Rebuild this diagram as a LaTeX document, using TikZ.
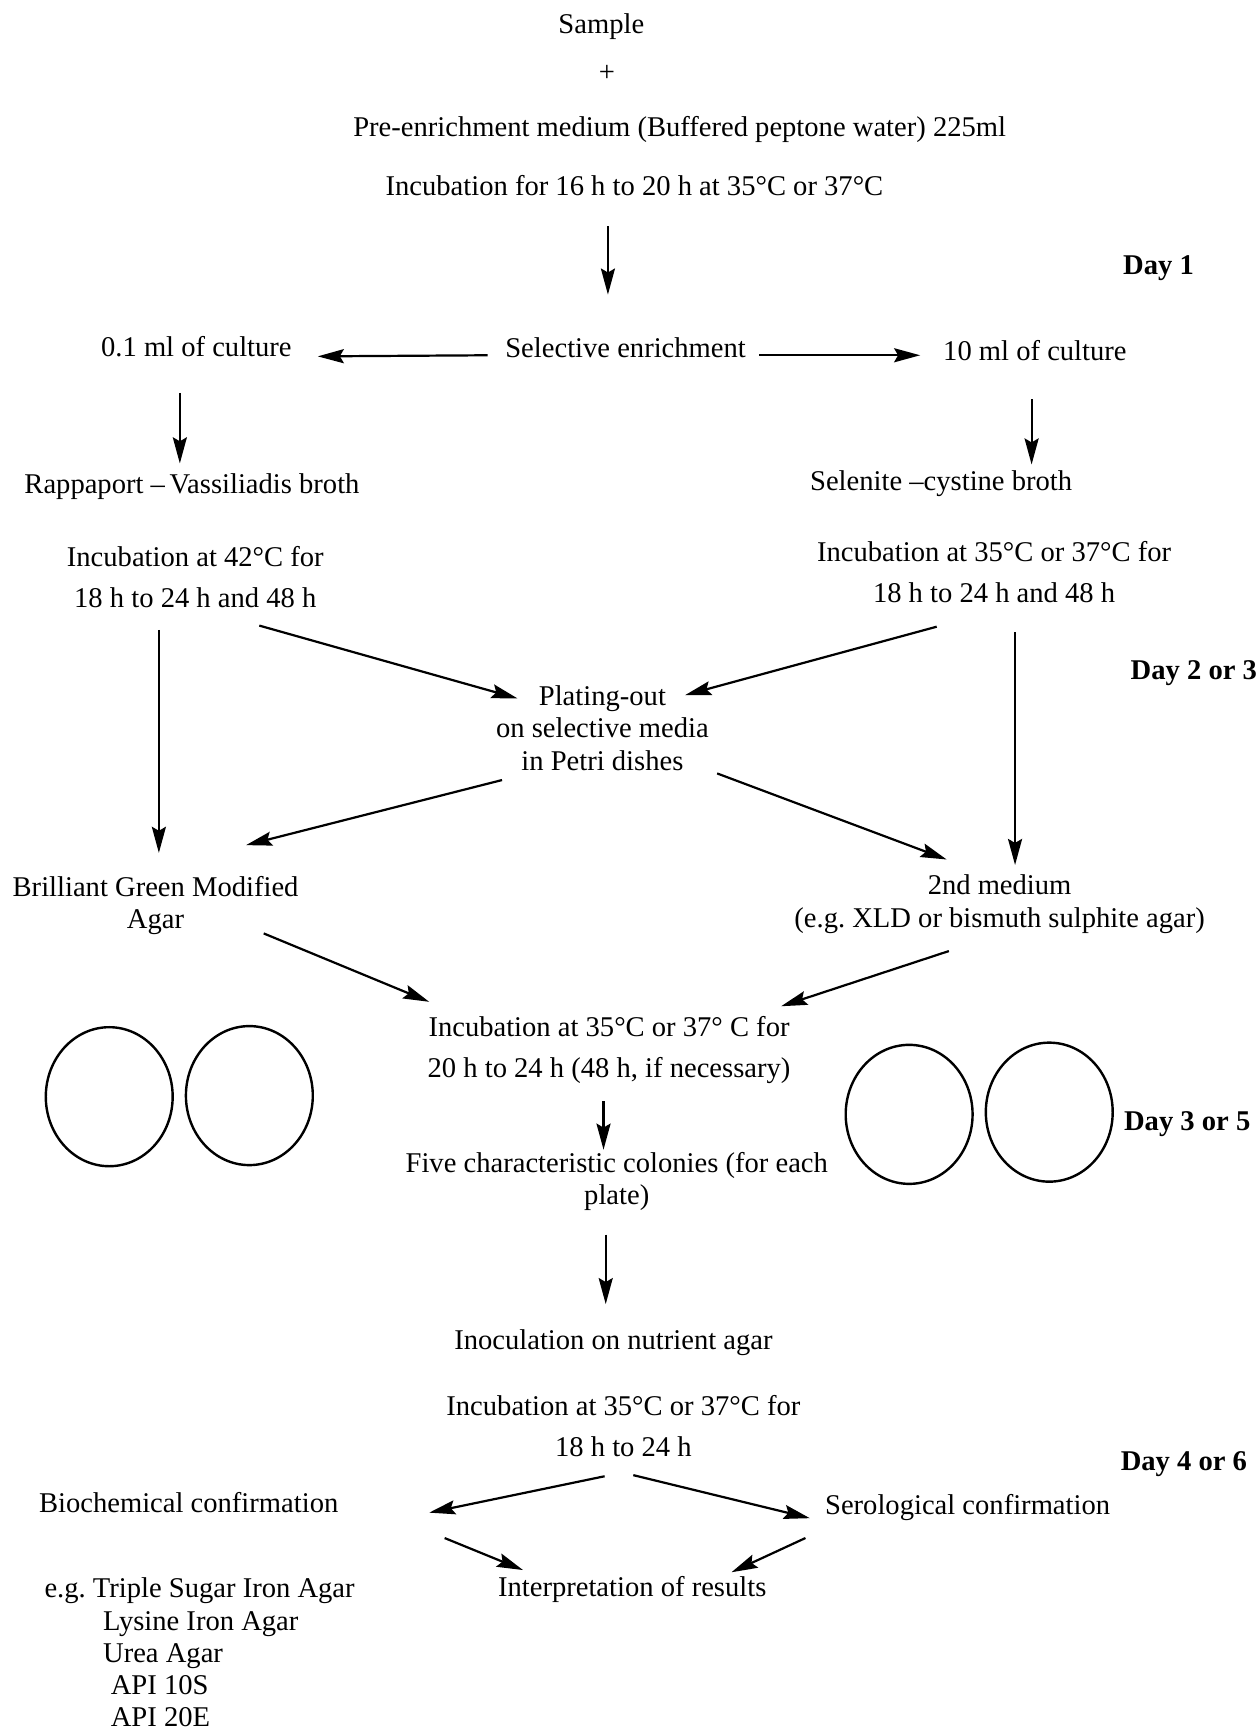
\documentclass[tikz,border=0pt]{standalone}
\usepackage{fontspec}
\setmainfont{Liberation Serif}
\usepackage{tikz}
\usetikzlibrary{arrows.meta}

\begin{document}
\begin{tikzpicture}[
  x=0.55pt, y=-0.55pt,
  lbl/.style={inner sep=0pt, text height=9.7pt, text depth=3.1pt,
              font=\fontsize{14.25}{16}\selectfont},
  lblpar/.style={inner sep=0pt, align=center, font=\fontsize{14.25}{16}\selectfont},
  lblwide/.style={lblpar, font=\fontsize{14.25}{20.5}\selectfont},
  daylbl/.style={lbl, font=\fontsize{14.25}{16}\selectfont\bfseries},
  arrow/.style={-{Stealth[length=13pt,width=7pt,inset=2pt]}, line width=1.1pt},
  dish/.style={line width=1.2pt}
]
  \useasboundingbox (0,0) rectangle (1139,1568);

  % pre-enrichment
  \node[lbl] (sample) at (545,24) {Sample};
  \node[lbl] (plus) at (550,68) {+};
  \node[lbl] (pre) at (616,118) {Pre-enrichment medium (Buffered peptone water) 225ml};
  \node[lbl] (inc16) at (575,171) {Incubation for 16 h to 20 h at 35°C or 37°C};

  % selective enrichment
  \node[lbl] (sel) at (567,318) {Selective enrichment};
  \node[lbl] (ml01) at (178,317) {0.1 ml of culture};
  \node[lbl] (ml10) at (938,321) {10 ml of culture};
  \node[lbl] (rv) at (174,441) {Rappaport –\,Vassiliadis broth};
  \node[lbl] (sc) at (853,439) {Selenite –cystine broth};
  \node[lblwide] (inc42) at (177,523) {Incubation at 42°C for\\18 h to 24 h and 48 h};
  \node[lblwide] (inc37a) at (901,518.5) {Incubation at 35°C or 37°C for\\18 h to 24 h and 48 h};

  % plating-out
  \node[lblpar] (plating) at (546,660) {Plating-out\\on selective media\\in Petri dishes};
  \node[lblpar] (bgm) at (141,820.5) {Brilliant Green Modified\\Agar};
  \node[lblpar] (second) at (906,819.5) {2nd medium\\(e.g.\ XLD or bismuth sulphite agar)};
  \node[lblwide] (inc48) at (552,951.5) {Incubation at 35°C or 37° C for\\20 h to 24 h (48 h, if necessary)};
  \node[lblpar] (five) at (559,1071) {Five characteristic colonies (for each\\plate)};

  % Petri dishes
  \draw[dish] (99,994) ellipse [x radius=57.5, y radius=63];
  \draw[dish] (226,993) ellipse [x radius=57.5, y radius=63];
  \draw[dish] (824,1010) ellipse [x radius=57.5, y radius=63];
  \draw[dish] (951,1008) ellipse [x radius=57.5, y radius=63];

  % confirmation
  \node[lbl] (inoc) at (556,1217) {Inoculation on nutrient agar};
  \node[lblwide] (inc1824) at (565,1292.5) {Incubation at 35°C or 37°C for\\18 h to 24 h};
  \node[lbl] (bio) at (171,1365) {Biochemical confirmation};
  \node[lbl] (sero) at (877,1367) {Serological confirmation};
  \node[lbl] (interp) at (573,1441) {Interpretation of results};
  \node[lblpar, align=left, anchor=north west] (tests) at (40,1430)
    {e.g.\ Triple Sugar Iron Agar\\\hspace*{2.05em}Lysine Iron Agar\\\hspace*{2.05em}Urea Agar\\
     \hspace*{2.32em}API 10S\\\hspace*{2.32em}API 20E};

  % days
  \node[daylbl] (day1) at (1050,243) {Day 1};
  \node[daylbl] (day23) at (1082,610) {Day 2 or 3};
  \node[daylbl] (day35) at (1076,1019) {Day 3 or 5};
  \node[daylbl] (day46) at (1073,1327) {Day 4 or 6};

  % connectors
  \draw[arrow] ([shift={(-24,34)}]inc16.center) -- ([shift={(-16,-51)}]sel.center);
  \draw[arrow] ([shift={(-125,4)}]sel.center) -- ([shift={(110,6)}]ml01.center);
  \draw[arrow] ([shift={(121,4)}]sel.center) -- ([shift={(-104,1)}]ml10.center);
  \draw[arrow] ([shift={(-15,39)}]ml01.center) -- ([shift={(-11,-21)}]rv.center);
  \draw[arrow] ([shift={(-3,41)}]ml10.center) -- ([shift={(82,-18)}]sc.center);
  \draw[arrow] ([shift={(-33,48)}]inc42.center) -- ([shift={(3,-47.5)}]bgm.center);
  \draw[arrow] ([shift={(58,44)}]inc42.center) -- ([shift={(-77,-27)}]plating.center);
  \draw[arrow] ([shift={(-52,49.5)}]inc37a.center) -- ([shift={(75,-30)}]plating.center);
  \draw[arrow] ([shift={(19,54.5)}]inc37a.center) -- ([shift={(14,-35.5)}]second.center);
  \draw[arrow] ([shift={(-91,47)}]plating.center) -- ([shift={(82,-54.5)}]bgm.center);
  \draw[arrow] ([shift={(104,41)}]plating.center) -- ([shift={(-48,-40.5)}]second.center);
  \draw[arrow] ([shift={(98,25.5)}]bgm.center) -- ([shift={(-163,-43.5)}]inc48.center);
  \draw[arrow] ([shift={(-46,42.5)}]second.center) -- ([shift={(156,-39.5)}]inc48.center);
  \draw[arrow] ([shift={(-5,46.5)}]inc48.center) -- ([shift={(-12,-29)}]five.center);
  \draw[arrow] ([shift={(-10,48)}]five.center) -- ([shift={(-7,-35)}]inoc.center);
  \draw[arrow] ([shift={(-17,45.5)}]inc1824.center) -- ([shift={(218,6)}]bio.center);
  \draw[arrow] ([shift={(9,44.5)}]inc1824.center) -- ([shift={(-143,9)}]sero.center);
  \draw[arrow] ([shift={(232,29)}]bio.center) -- ([shift={(-99,-18)}]interp.center);
  \draw[arrow] ([shift={(-147,27)}]sero.center) -- ([shift={(90,-16)}]interp.center);
\end{tikzpicture}
\end{document}
